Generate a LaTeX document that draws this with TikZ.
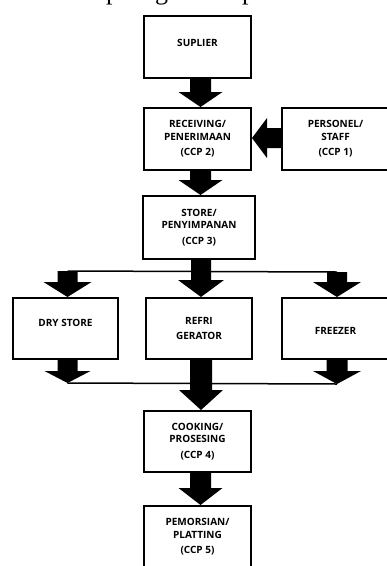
\documentclass[tikz,border=0pt]{standalone}
\usepackage{fontspec}
\setmainfont{Open Sans}
\newfontfamily\serifglyph{Liberation Serif}
\usetikzlibrary{calc}
\tikzset{
  box/.style={draw, line width=2pt, fill=white, minimum width=107pt, minimum height=62pt,
    align=center, inner sep=0pt, font=\bfseries\fontsize{10}{12.5}\selectfont},
  joinline/.style={draw, line width=1.5pt},
  topglyph/.style={anchor=base west, inner sep=0pt, font=\serifglyph\fontsize{26}{26}\selectfont}
}
% #1 start, #2 end, #3 head length, #4 shaft half width, #5 head half width
\newcommand\fatarrow[5]{%
  \coordinate (fa) at (#1);
  \coordinate (fb) at (#2);
  \coordinate (fh) at ($(fb)!#3!(fa)$);
  \fill ($(fa)!#4!90:(fb)$) -- ($(fh)!#4!-90:(fa)$) -- ($(fh)!#5!-90:(fa)$) -- (fb)
    -- ($(fh)!#5!90:(fa)$) -- ($(fh)!#4!90:(fa)$) -- ($(fa)!#4!-90:(fb)$) -- cycle;
}
\begin{document}
\begin{tikzpicture}[x=1pt,y=-1pt]
\useasboundingbox (0,0) rectangle (387,566);
\fill[white] (0,0) rectangle (387,566);
% cut-off text line at the top
\node[topglyph] (t1) at (106,-1) {p};
\node[topglyph] (t2) at (155,-1) {g};
\node[topglyph] (t3) at (242,-1) {p};
% boxes
\node[box] (sup) at (197.5,47) {\raisebox{4pt}[\height][\depth]{SUPLIER}};
\node[box] (rec) at (197.5,139) {RECEIVING/\\ PENERIMAAN\\[3pt] (CCP 2)};
\node[box] (per) at (335.5,139) {PERSONEL/\\ STAFF\\[3pt] (CCP 1)};
\node[box, minimum width=112pt, minimum height=63pt] (sto) at (199,227.5) {STORE/\\ PENYIMPANAN\\[3pt] (CCP 3)};
\node[box, minimum width=105pt, minimum height=61pt] (dry) at (65.5,328.5) {\raisebox{6pt}[\height][\depth]{DRY STORE}};
\node[box, minimum width=106pt, minimum height=61pt] (ref) at (199,328.5) {REFRI\\[2.5pt] GERATOR};
\node[box, minimum height=61pt] (fre) at (335.5,328.5) {\raisebox{-2.5pt}[\height][\depth]{FREEZER}};
\node[box, minimum height=61pt] (coo) at (197.5,441.5) {COOKING/\\ PROSESING\\[3pt] (CCP 4)};
\node[box] (pem) at (197.5,537) {PEMORSIAN/\\ PLATTING\\[3pt] (CCP 5)};
% branch and join lines
\coordinate (tl) at (67.5,271);
\coordinate (tr) at (337,272);
\coordinate (bl) at (67.5,383);
\coordinate (br) at (337,384);
\draw[joinline] (tl) -- (tr);
\draw[joinline] (bl) -- (br);
% block arrows
\fatarrow{[xshift=3pt]sup.south}{fa |- rec.north}{15pt}{10.5pt}{22pt}
\fatarrow{[xshift=3pt]rec.south}{fa |- sto.north}{15pt}{10.5pt}{22pt}
\fatarrow{[yshift=1pt]per.west}{fa -| rec.east}{15pt}{10pt}{20pt}
\fatarrow{[xshift=2pt]sto.south}{fa |- ref.north}{17pt}{10pt}{23pt}
\fatarrow{tl}{tl |- dry.north}{15pt}{10pt}{24pt}
\fatarrow{tr}{tr |- fre.north}{15pt}{10pt}{24pt}
\fatarrow{bl |- dry.south}{bl}{12pt}{10pt}{23pt}
\fatarrow{br |- fre.south}{br}{13pt}{10.5pt}{24pt}
\fatarrow{[xshift=2pt]ref.south}{fa |- coo.north}{20pt}{11pt}{22pt}
\fatarrow{[xshift=3pt]coo.south}{fa |- pem.north}{17pt}{10.5pt}{22pt}
\end{tikzpicture}
\end{document}
